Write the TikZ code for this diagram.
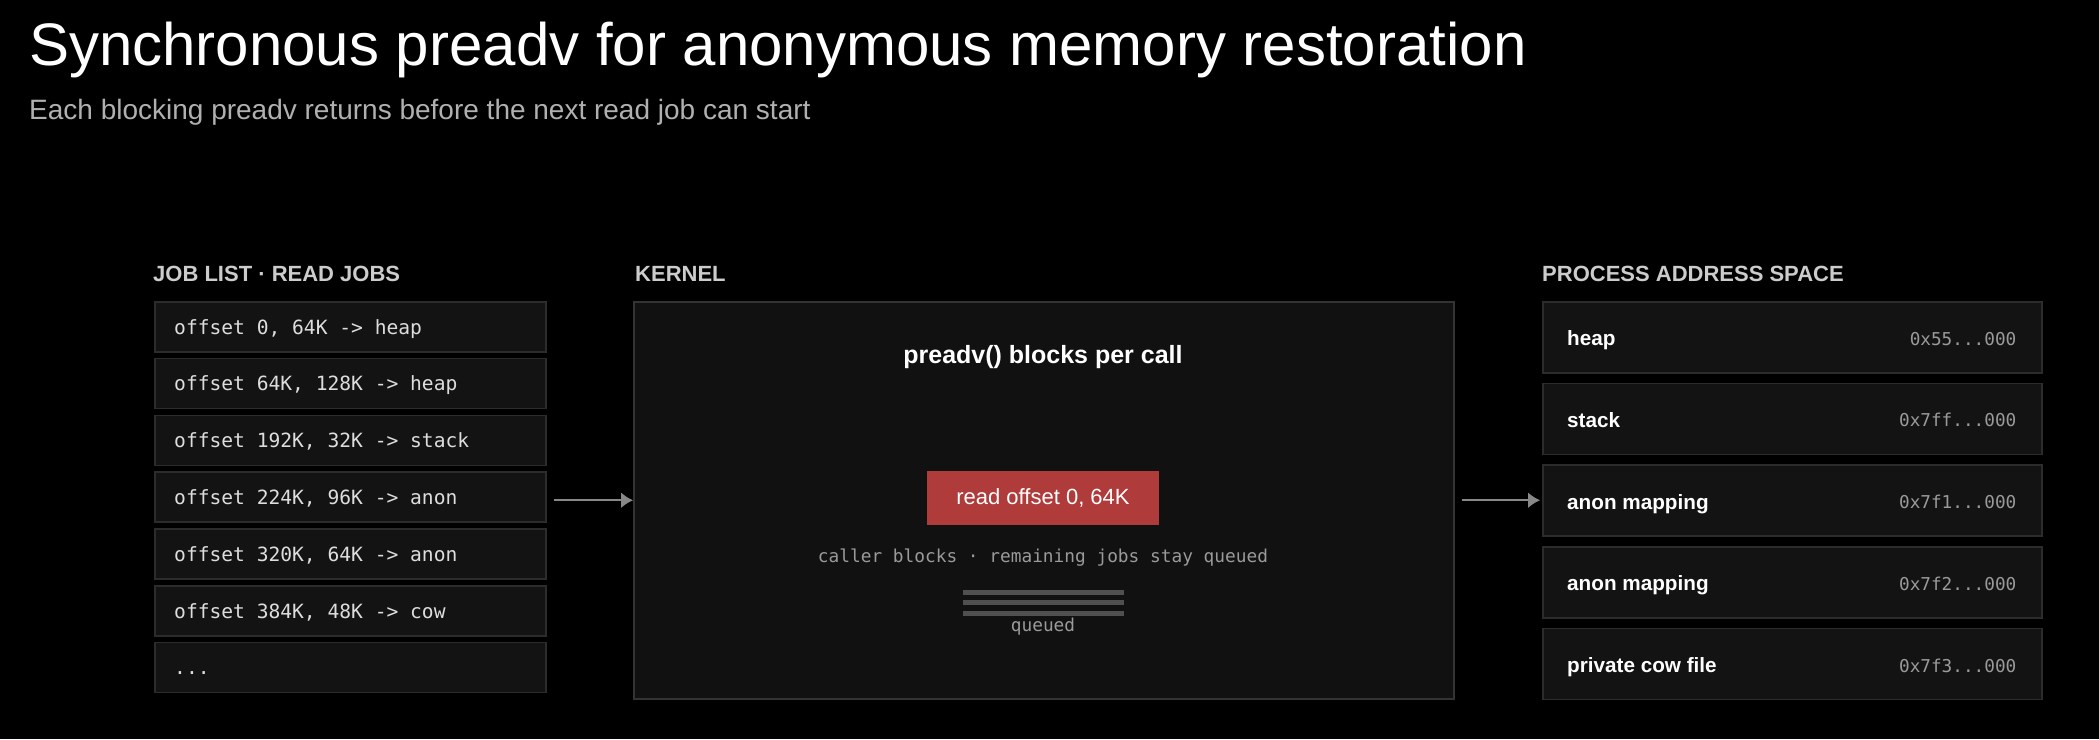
\documentclass[tikz,border=0pt]{standalone}
\usepackage{fontspec}
\setmainfont{Liberation Sans}
\setmonofont{DejaVu Sans Mono}
\usetikzlibrary{calc,positioning,arrows.meta}
\definecolor{boxfill}{HTML}{131313}
\definecolor{boxline}{HTML}{2C2C2C}
\definecolor{kernfill}{HTML}{111111}
\definecolor{kernline}{HTML}{333333}
\definecolor{jobtext}{HTML}{DDDDDD}
\definecolor{headtext}{HTML}{CCCCCC}
\definecolor{subtext}{HTML}{B0B0B0}
\definecolor{dimtext}{HTML}{9A9A9A}
\definecolor{readred}{HTML}{B03B3B}
\definecolor{queuebar}{HTML}{505050}
\definecolor{arrowgray}{HTML}{888888}
\newcommand\hexgap{...}
\tikzset{
  header/.style={anchor=base west, inner sep=0pt, text=headtext, font=\bfseries\fontsize{22}{26}\selectfont},
  jobbox/.style={draw=boxline, fill=boxfill, line width=1.5pt, anchor=north west, minimum width=391pt, minimum height=50pt},
  jobtxt/.style={inner sep=0pt, text height=14.6pt, text depth=0pt, text=jobtext, font=\ttfamily\fontsize{19.6}{22}\selectfont},
  membox/.style={draw=boxline, fill=boxfill, line width=1.5pt, anchor=north west, minimum width=499pt, minimum height=71pt},
  memlabel/.style={inner sep=0pt, text height=17pt, text depth=0pt, text=white, font=\bfseries\fontsize{20.7}{24}\selectfont},
  memaddr/.style={inner sep=0pt, text height=16pt, text depth=0pt, text=dimtext, font=\ttfamily\fontsize{17.7}{20}\selectfont},
  monodim/.style={inner sep=0pt, text=dimtext, font=\ttfamily\fontsize{17.8}{20}\selectfont},
  flow/.style={arrowgray, line width=2pt, -{Latex[length=12pt,width=16pt]}}
}
\begin{document}
\begin{tikzpicture}[x=1pt,y=-1pt]
    \fill[black] (0,0) rectangle (2099,739);
    \useasboundingbox (0,0) rectangle (2099,739);

    \node[anchor=base west, inner sep=0pt, text=white, font=\fontsize{60}{72}\selectfont] (title) at (29,65) {Synchronous preadv for anonymous memory restoration};
    \node[anchor=base west, inner sep=0pt, text=subtext, font=\fontsize{28}{32}\selectfont] (subtitle) at (29,119) {Each blocking preadv returns before the next read job can start};

    \node[header] (jobhead) at (153,281) {JOB LIST · READ JOBS};
    \node[header] (kernhead) at (635,281) {KERNEL};
    \node[header] (memhead) at (1542,281) {PROCESS ADDRESS SPACE};

    % read jobs
    \foreach \txt [count=\i] in {{offset 0, 64K -> heap},{offset 64K, 128K -> heap},{offset 192K, 32K -> stack},
        {offset 224K, 96K -> anon},{offset 320K, 64K -> anon},{offset 384K, 48K -> cow},{\hexgap}}{
        \node[jobbox] (job\i) at (154,{301+56.8*(\i-1)}) {};
        \node[jobtxt, right=20pt of job\i.west] (jt\i) {\txt};
    }

    % kernel
    \node[draw=kernline, fill=kernfill, line width=1.5pt, anchor=north west, minimum width=820pt, minimum height=397pt] (kernel) at (633,301) {};
    \node[text=white, inner sep=0pt, font=\bfseries\fontsize{25}{30}\selectfont] (blocks) at (1043,357) {preadv() blocks per call};
    \node[fill=readred, text=white, minimum width=232pt, minimum height=54pt, font=\fontsize{22}{26}\selectfont] (read) at (1043,498) {read offset 0, 64K};
    \node[monodim] (caller) at (1043,558) {caller blocks · remaining jobs stay queued};
    \foreach \y in {592,602,613}{
        \draw[queuebar, line width=5pt] (963,\y) -- (1124,\y);
    }
    \node[monodim] (queued) at (1043,627) {queued};

    % address space
    \foreach \lbl/\adr [count=\i] in {heap/0x55\hexgap000,stack/0x7ff\hexgap000,anon mapping/0x7f1\hexgap000,
        anon mapping/0x7f2\hexgap000,private cow file/0x7f3\hexgap000}{
        \node[membox] (mem\i) at (1542,{301+81.7*(\i-1)}) {};
        \node[memlabel, right=25pt of mem\i.west] (lbl\i) {\lbl};
        \node[memaddr, left=26pt of mem\i.east] (adr\i) {\adr};
    }

    \draw[flow] ([xshift=7pt]kernel.west -| job4.east) -- (kernel.west);
    \draw[flow] ([xshift=7pt]kernel.east) -- ([xshift=-2pt]kernel.east -| mem3.west);
\end{tikzpicture}
\end{document}
